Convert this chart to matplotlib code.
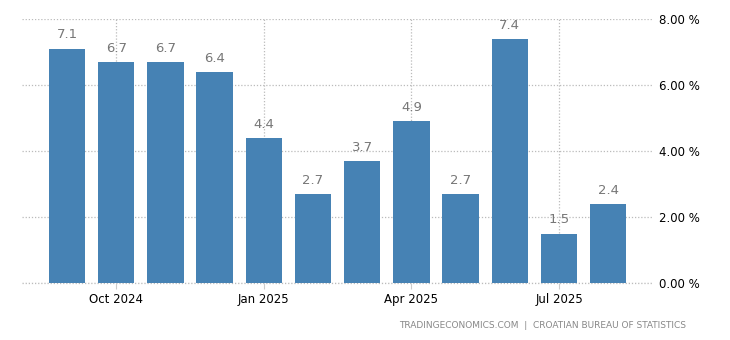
import matplotlib
matplotlib.use("Agg")
import matplotlib.pyplot as plt

months = ["Sep 2024", "Oct 2024", "Nov 2024", "Dec 2024", "Jan 2025", "Feb 2025",
          "Mar 2025", "Apr 2025", "May 2025", "Jun 2025", "Jul 2025", "Aug 2025"]
values = [7.1, 6.7, 6.7, 6.4, 4.4, 2.7, 3.7, 4.9, 2.7, 7.4, 1.5, 2.4]
tick_labels = ["Oct 2024", "Jan 2025", "Apr 2025", "Jul 2025"]
yticks = [0, 2, 4, 6, 8]

fig = plt.figure(figsize=(7.3, 3.4), dpi=100)
ax = fig.add_axes([22/730, 57/340, (653-22)/730, (283-19)/340])

x = list(range(len(values)))
ax.bar(x, values, width=0.74, color="#4682b4", zorder=2)
for xi, v in zip(x, values):
    ax.text(xi, v + 0.22, f"{v:.1f}", ha="center", va="bottom", fontsize=9.5, color="#777777")

ax.set_xlim(-0.915, 11.91)
ax.set_ylim(0, 8)
ax.yaxis.tick_right()
ax.set_yticks(yticks)
ax.set_yticklabels([f"{t:.2f} %" for t in yticks], fontsize=8.5, color="#000000")
tick_pos = [months.index(t) for t in tick_labels]
ax.set_xticks(tick_pos)
ax.set_xticklabels(tick_labels, fontsize=8.5, color="#000000")
ax.tick_params(axis="y", length=0, pad=4)
ax.tick_params(axis="x", length=4, color="#cccccc", pad=3)
ax.grid(True, axis="both", linestyle=(0, (1, 1.5)), color="#bbbbbb", linewidth=0.9, zorder=0)
for s in ax.spines.values():
    s.set_visible(False)
ax.axhline(0, color="#bbbbbb", linestyle=(0, (1, 1.5)), linewidth=0.9, zorder=1, clip_on=False)

fig.text(686/730, 1 - 325/340, "TRADINGECONOMICS.COM  |  CROATIAN BUREAU OF STATISTICS",
         ha="right", va="center", fontsize=6.5, color="#888888")

fig.savefig("out.png", dpi=100)
